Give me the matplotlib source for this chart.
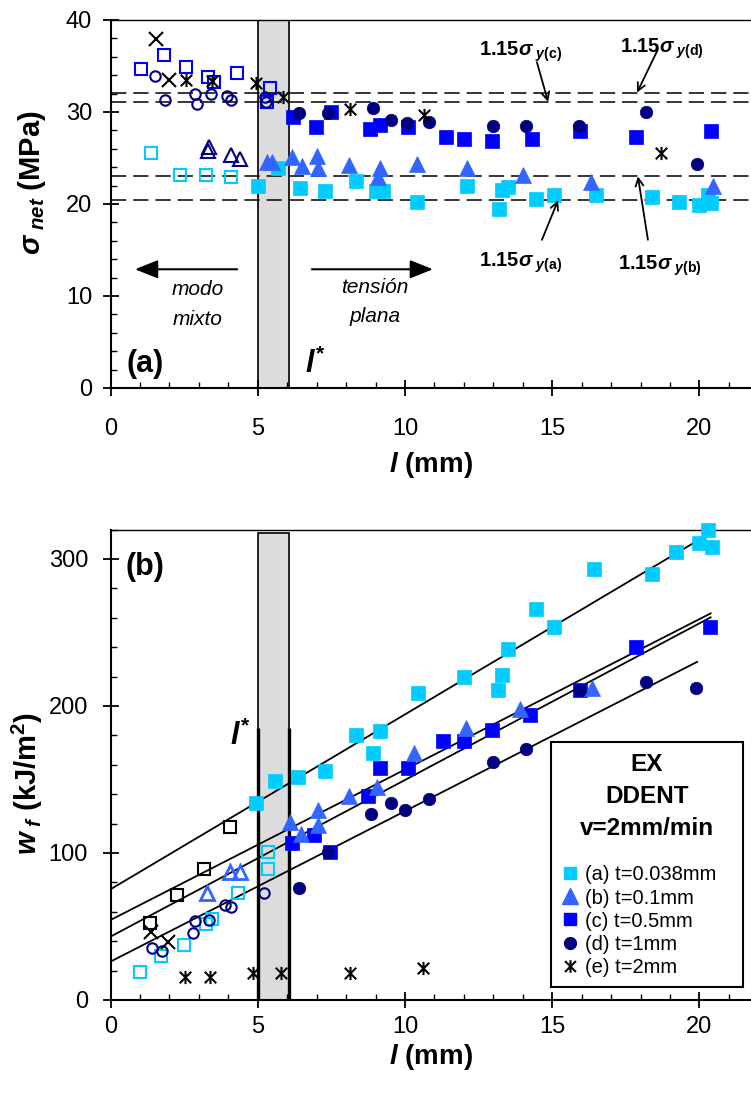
import matplotlib
matplotlib.use("Agg")
import matplotlib.pyplot as plt
from matplotlib.patches import Rectangle
from matplotlib.lines import Line2D
from matplotlib.path import Path
from matplotlib.ticker import MultipleLocator

plt.rcParams['font.family'] = ['Liberation Sans', 'DejaVu Sans']
plt.rcParams['mathtext.fontset'] = 'custom'
plt.rcParams['mathtext.it'] = 'Liberation Sans:italic:bold'
plt.rcParams['mathtext.bf'] = 'Liberation Sans:bold'
plt.rcParams['mathtext.rm'] = 'Liberation Sans:bold'
plt.rcParams['mathtext.sf'] = 'Liberation Sans:bold'
plt.rcParams['lines.scale_dashes'] = False

# ---------------- data: net section stress (panel a) ----------------
sa_open_x = [1.38, 2.35, 3.23, 4.1]
sa_open_y = [25.5, 23.2, 23.2, 22.9]
sa_x = [5.0, 5.69, 6.45, 7.3, 8.33, 9.0, 9.25, 10.4, 12.1, 13.2, 13.3, 13.5,
        14.45, 15.07, 16.5, 18.4, 19.3, 19.97, 20.3, 20.4]
sa_y = [22.0, 23.9, 21.7, 21.4, 22.5, 21.4, 21.4, 20.2, 21.9, 19.5, 21.5, 21.8,
        20.5, 21.0, 21.0, 20.8, 20.2, 19.9, 21.0, 20.1]

sb_open_x = [3.33, 3.3, 4.1, 4.4]
sb_open_y = [26.2, 25.7, 25.3, 24.9]
sb_x = [5.3, 5.5, 6.15, 6.5, 7.0, 7.05, 8.1, 9.1, 9.15, 10.4, 12.1, 14.0, 16.3, 20.45]
sb_y = [24.6, 24.6, 25.1, 24.1, 25.2, 23.9, 24.2, 22.9, 23.9, 24.3, 23.9, 23.1, 22.4, 22.0]

sc_open_x = [1.05, 1.8, 2.55, 3.3, 3.5, 4.3, 5.4, 5.3]
sc_open_y = [34.7, 36.2, 34.9, 33.8, 33.2, 34.2, 32.6, 31.1]
sc_x = [6.2, 6.97, 7.5, 8.8, 9.15, 10.1, 11.4, 12.0, 12.96, 14.3, 15.95, 17.86, 20.4]
sc_y = [29.5, 28.4, 30.0, 28.1, 28.6, 28.4, 27.3, 27.1, 26.8, 27.1, 27.9, 27.3, 27.9]

sd_open_x = [1.5, 1.84, 2.86, 2.93, 3.4, 3.94, 4.1, 5.24, 5.27]
sd_open_y = [33.9, 31.3, 32.0, 30.9, 32.0, 31.7, 31.3, 31.6, 31.1]
sd_x = [6.4, 7.4, 8.9, 9.52, 10.07, 10.8, 13.0, 14.1, 15.9, 18.2, 19.9]
sd_y = [29.9, 29.9, 30.4, 29.1, 28.8, 28.9, 28.5, 28.5, 28.5, 30.0, 24.3]

se_open_x = [1.56, 2.0]
se_open_y = [37.9, 33.5]
se_x = [2.55, 3.45, 4.93, 5.86, 8.13, 10.65, 18.7]
se_y = [33.5, 33.4, 33.1, 31.6, 30.3, 29.7, 25.5]

# 1.15 x yield stress of each film
yield_names = ['a', 'b', 'c', 'd']
yield_vals = [20.4, 23.0, 31.1, 32.1]

# ---------------- data: specific work of fracture (panel b) ----------------
wa_open_x = [0.99, 1.73, 2.48, 3.23, 3.46, 4.32, 5.34, 5.34]
wa_open_y = [19, 30, 37.4, 51.7, 55, 72.6, 89, 100.7]
wa_x = [4.93, 5.6, 6.36, 7.3, 8.33, 8.9, 9.15, 10.45, 12.0, 13.17, 13.3, 13.5,
        14.46, 15.07, 16.43, 18.4, 19.2, 19.97, 20.3, 20.44]
wa_y = [134, 149, 152, 156, 180, 168, 183, 209, 220, 211, 221, 239,
        266, 254, 293, 290, 305, 311, 320, 308]

wb_open_x = [3.26, 4.05, 4.39]
wb_open_y = [72.8, 87, 87]
wb_x = [6.1, 6.46, 7.04, 7.04, 8.1, 9.05, 10.3, 12.07, 13.9, 16.35]
wb_y = [121, 113, 129, 119, 139, 145, 168, 185, 198, 212]

wc_x = [6.16, 6.9, 7.45, 8.74, 9.15, 10.1, 11.3, 12.0, 12.96, 14.25, 15.95, 17.86, 20.37]
wc_y = [107, 112, 101, 139, 158, 158, 176, 176, 184, 194, 211, 240, 254]

wd_open_x = [1.42, 1.76, 2.79, 2.86, 3.34, 3.88, 4.1, 5.2]
wd_open_y = [35.3, 33.5, 45.6, 53.7, 54.4, 64.6, 63.5, 72.8]
wd_x = [6.4, 7.4, 8.84, 9.52, 10.0, 10.8, 13.0, 14.1, 15.95, 18.2, 19.87]
wd_y = [76, 101, 126.5, 134, 129, 137, 162, 171, 211, 216, 212]

we_open_x = [1.39, 1.95]
we_open_y = [46, 39.5]
we_x = [2.52, 3.37, 4.84, 5.8, 8.13, 10.6]
we_y = [15.6, 15.6, 18.1, 18.2, 18.2, 22]

wk_open_x = [1.33, 2.27, 3.16, 4.05]
wk_open_y = [52.4, 71.4, 89, 118]

# linear regressions w_f = w_e + beta*w_p * l
fit_intercept = [75.3, 54.4, 43.1, 26.1]
fit_end_x = [20.4, 20.38, 20.38, 19.92]
fit_end_y = [318, 263, 260.3, 230]

# transition ligament l* band
lstar_lo, lstar_hi = 5.0, 6.05

legend_labels = ['(a) t=0.038mm', '(b) t=0.1mm', '(c) t=0.5mm', '(d) t=1mm', '(e) t=2mm']

CYAN = '#00CCFF'
MBLUE = '#3366FF'
BLUE = '#0000FF'
NAVY = '#000080'

# six-spoke asterisk
AST = Path([(-1, -1), (1, 1), (-1, 1), (1, -1), (0, -1.15), (0, 1.15)],
           [Path.MOVETO, Path.LINETO, Path.MOVETO, Path.LINETO, Path.MOVETO, Path.LINETO])

fig = plt.figure(figsize=(7.51, 10.95), dpi=100)
ax1 = fig.add_axes([110.5 / 751, 0.6457, 640.5 / 751, 0.3361])
ax2 = fig.add_axes([110.5 / 751, 0.08676, 640.5 / 751, 0.4296])


def filled(ax, x, y, marker, color, ms, z=4):
    ax.plot(x, y, ls='none', marker=marker, ms=ms, mfc=color, mec=color, mew=0.5,
            zorder=z, clip_on=False)


def hollow(ax, x, y, marker, color, ms, mew=1.5, z=4):
    ax.plot(x, y, ls='none', marker=marker, ms=ms, mfc='none', mec=color, mew=mew,
            zorder=z, clip_on=False)


def style_axes(ax, xpad, ypad):
    ax.set_xlim(0, 21.75)
    ax.xaxis.set_major_locator(MultipleLocator(5))
    ax.xaxis.set_minor_locator(MultipleLocator(1))
    ax.spines['right'].set_visible(False)
    ax.spines['left'].set_linewidth(1.5)
    ax.spines['bottom'].set_linewidth(1.5)
    ax.spines['top'].set_linewidth(1.0)
    ax.tick_params(axis='x', which='major', direction='inout', length=11.5, width=1.3,
                   labelsize=17, pad=xpad, top=False)
    ax.tick_params(axis='y', which='major', direction='inout', length=11.5, width=1.3,
                   labelsize=17, pad=ypad, right=False)
    ax.tick_params(which='minor', direction='in', length=4.5, width=1.0,
                   top=False, right=False)


# ================= panel (a) =================
style_axes(ax1, 16, 7.5)
ax1.set_ylim(0, 40)
ax1.yaxis.set_major_locator(MultipleLocator(10))
ax1.yaxis.set_minor_locator(MultipleLocator(2))

ax1.axvspan(lstar_lo, lstar_hi, facecolor='#DCDCDC', edgecolor='black', lw=1.2, zorder=1)
for v in yield_vals:
    ax1.axhline(v, color='black', lw=1.1, dashes=(11, 5), zorder=2)

filled(ax1, sa_x, sa_y, 's', CYAN, 9.5)
hollow(ax1, sa_open_x, sa_open_y, 's', CYAN, 9)
filled(ax1, sc_x, sc_y, 's', BLUE, 9.5)
hollow(ax1, sc_open_x, sc_open_y, 's', BLUE, 9)
filled(ax1, sb_x, sb_y, '^', MBLUE, 12)
hollow(ax1, sb_open_x, sb_open_y, '^', NAVY, 10)
filled(ax1, sd_x, sd_y, 'o', NAVY, 9)
hollow(ax1, sd_open_x, sd_open_y, 'o', NAVY, 7.5)
hollow(ax1, se_open_x, se_open_y, 'x', 'black', 9.5)
hollow(ax1, se_x, se_y, AST, 'black', 9.5)

# yield stress labels with arrows
ytext = {'a': (12.5, 13.15), 'b': (17.23, 12.8), 'c': (12.5, 36.1), 'd': (17.3, 36.4)}
ytail = {'a': (14.65, 16.1), 'b': (18.25, 16.1), 'c': (14.48, 35.4), 'd': (18.59, 36.8)}
ytip_x = {'a': 15.2, 'b': 17.91, 'c': 14.86, 'd': 17.88}
for name, val in zip(yield_names, yield_vals):
    tx, ty = ytext[name]
    ax1.text(tx, ty, r'1.15$\sigma_{\ y\mathrm{(%s)}}$' % name, fontsize=14.5,
             fontweight='bold', ha='left', va='baseline', zorder=6)
    ax1.annotate('', xy=(ytip_x[name], val), xytext=ytail[name],
                 arrowprops=dict(arrowstyle='->', lw=1.3, color='black',
                                 shrinkA=0, shrinkB=0, mutation_scale=14), zorder=6)

# regime arrows
ax1.annotate('', xy=(0.83, 12.9), xytext=(4.3, 12.9),
             arrowprops=dict(arrowstyle='-|>,head_length=1.0,head_width=0.4',
                             mutation_scale=14, lw=1.5, color='black', shrinkA=0, shrinkB=0))
ax1.annotate('', xy=(10.95, 12.9), xytext=(6.84, 12.9),
             arrowprops=dict(arrowstyle='-|>,head_length=1.0,head_width=0.4',
                             mutation_scale=14, lw=1.5, color='black', shrinkA=0, shrinkB=0))
ax1.text(2.97, 10.1, 'modo', style='italic', fontsize=15, ha='center', va='baseline')
ax1.text(2.97, 6.85, 'mixto', style='italic', fontsize=15, ha='center', va='baseline')
ax1.text(8.98, 10.3, 'tensión', style='italic', fontsize=15, ha='center', va='baseline')
ax1.text(8.98, 7.2, 'plana', style='italic', fontsize=15, ha='center', va='baseline')

ax1.text(0.56, 1.7, '(a)', fontsize=22, fontweight='bold', ha='left', va='baseline')
ax1.text(6.6, 1.6, r'$l^{*}$', fontsize=22, ha='left', va='baseline')

ax1.set_xlabel(r'$l$ (mm)', fontsize=20, fontweight='bold')
ax1.set_ylabel(r'$\sigma_{\ net}$ (MPa)', fontsize=21, fontweight='bold')
ax1.xaxis.set_label_coords(0.5, -0.168)
ax1.yaxis.set_label_coords(-0.097, 0.557)

# ================= panel (b) =================
style_axes(ax2, 6, 10.4)
ax2.set_ylim(0, 320)
ax2.yaxis.set_major_locator(MultipleLocator(100))
ax2.yaxis.set_minor_locator(MultipleLocator(20))

ax2.add_patch(Rectangle((lstar_lo, 0), lstar_hi - lstar_lo, 318, facecolor='#DCDCDC',
                        edgecolor='black', lw=1.2, zorder=1))
ax2.vlines([lstar_lo, lstar_hi], 0, 185, colors='black', lw=2.4, zorder=2)

for b0, xe, ye in zip(fit_intercept, fit_end_x, fit_end_y):
    ax2.plot([0, xe], [b0, ye], color='black', lw=1.3, zorder=3)

filled(ax2, wa_x, wa_y, 's', CYAN, 9.5)
hollow(ax2, wa_open_x, wa_open_y, 's', CYAN, 9)
filled(ax2, wc_x, wc_y, 's', BLUE, 9.5)
filled(ax2, wb_x, wb_y, '^', MBLUE, 12)
hollow(ax2, wb_open_x, wb_open_y, '^', MBLUE, 10, mew=2)
filled(ax2, wd_x, wd_y, 'o', NAVY, 9)
hollow(ax2, wd_open_x, wd_open_y, 'o', NAVY, 7.5)
hollow(ax2, wk_open_x, wk_open_y, 's', 'black', 9)
hollow(ax2, we_open_x, we_open_y, 'x', 'black', 9.5)
hollow(ax2, we_x, we_y, AST, 'black', 9.5)

ax2.text(0.5, 289, '(b)', fontsize=22, fontweight='bold', ha='left', va='baseline')
ax2.text(4.06, 173.5, r'$l^{*}$', fontsize=22, ha='left', va='baseline')

# legend box with heading
ax2.add_patch(Rectangle((14.96, 8.8), 6.52, 166.7, facecolor='white', edgecolor='black',
                        lw=1.5, zorder=7))
ax2.text(18.22, 168, 'EX\nDDENT\nv=2mm/min', fontsize=17.5, fontweight='bold',
         ha='center', va='top', linespacing=1.5, zorder=8)
handles = [
    Line2D([], [], ls='none', marker='s', ms=9, mfc=CYAN, mec=CYAN),
    Line2D([], [], ls='none', marker='^', ms=11, mfc=MBLUE, mec=MBLUE),
    Line2D([], [], ls='none', marker='s', ms=9, mfc=BLUE, mec=BLUE),
    Line2D([], [], ls='none', marker='o', ms=8.5, mfc=NAVY, mec=NAVY),
    Line2D([], [], ls='none', marker=AST, ms=9, mfc='none', mec='black', mew=1.5),
]
leg = ax2.legend(handles, legend_labels, loc='upper left', bbox_to_anchor=(15.34, 91.5),
                 bbox_transform=ax2.transData, frameon=False, borderpad=0,
                 fontsize=14.5, handlelength=0.8, handletextpad=0.35, labelspacing=0.2,
                 borderaxespad=0)
leg.set_zorder(9)

ax2.set_xlabel(r'$l$ (mm)', fontsize=20, fontweight='bold')
ax2.set_ylabel(r'$w_{\ f}$ (kJ/m$^{2}$)', fontsize=21, fontweight='bold')
ax2.xaxis.set_label_coords(0.5, -0.09)
ax2.yaxis.set_label_coords(-0.102, 0.461)

fig.savefig('out.png', dpi=100)
